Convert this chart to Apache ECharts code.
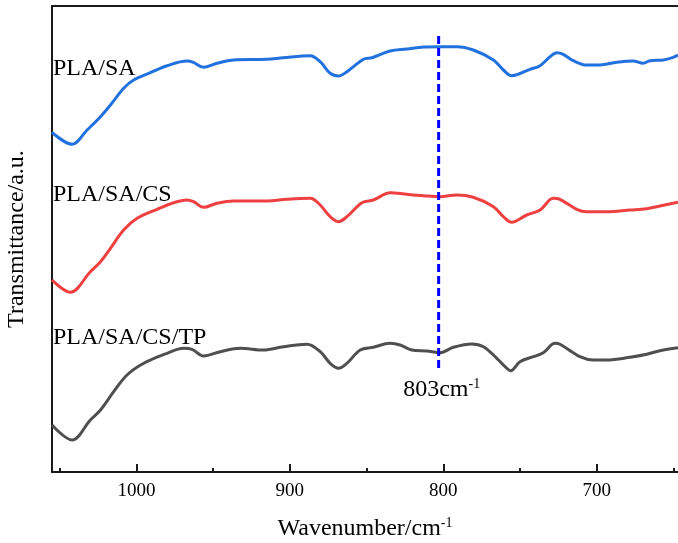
<!DOCTYPE html>
<html><head><meta charset="utf-8">
<script src="https://cdn.jsdelivr.net/npm/echarts@6/dist/echarts.min.js"></script>
<style>html,body{margin:0;padding:0;background:#fff}#c{width:678px;height:543px}</style>
</head><body><div id="c"></div>
<script>
const FONT = "'Liberation Serif','Times New Roman',serif";

// x range (wavenumber, cm-1), axis reversed
const xMin = 647, xMax = 1055;
const majorTicks = [700, 800, 900, 1000];
const minorTicks = [650, 750, 850, 950, 1050];

// PLA/SA (blue)
const wnSA = [1055, 1041.9, 1032.1, 1023.4, 1016.9, 1008.3, 1001.8, 990.9, 980, 967, 962.9, 956.2, 947.5, 936.6, 914.9, 904.3, 886.7, 880.2, 873.7, 868.3, 862.8, 852, 846.5, 834.6, 823.7, 812.9, 802, 791.2, 780.4, 767.3, 760.8, 755.4, 743.4, 736.9, 730.4, 726, 721.8, 715.2, 706.5, 697.9, 687, 676.2, 669.7, 665.3, 656.6, 650.1, 647];
const tSA = [339.7, 327.7, 342, 355.3, 367, 383.7, 392, 399.3, 406.3, 411, 409.7, 404.7, 408.7, 412, 412.7, 414.3, 416.3, 410.3, 398.7, 396, 400.3, 412.7, 414.3, 421, 423, 425, 425.3, 425.3, 422, 412, 402, 396.3, 402.7, 406.3, 415.3, 419.3, 417.7, 411.3, 407, 407, 409.7, 411, 408.7, 411.3, 412, 414.7, 417];

// PLA/SA/CS (red)
const wnCS = [1055, 1043, 1030, 1023.4, 1016.9, 1008.3, 999.5, 986.5, 975.7, 967, 962.7, 956.2, 947.5, 936.6, 914.9, 901.9, 886.7, 880.2, 873.7, 868.3, 862.8, 853, 845.5, 834.6, 823.7, 812.9, 802, 791.2, 780.4, 767.3, 760.8, 755.4, 745.6, 736.9, 728.3, 723.9, 713, 706.5, 693.5, 678.3, 667.4, 658.8, 647];
const tCS = [192, 179.7, 200.3, 210.3, 223.7, 242, 253.7, 262.7, 269.3, 272, 270.3, 264.7, 268.7, 271, 271, 272.7, 273.7, 267, 255.3, 250.3, 255.3, 269.3, 272, 279.3, 277.7, 276.3, 275.3, 277, 274.7, 265.3, 255.3, 249.7, 257, 262, 273.7, 272.7, 262.7, 260.3, 260.3, 262, 263.3, 266, 269.7];

// PLA/SA/CS/TP (gray)
const wnTP = [1055, 1041.9, 1030, 1023.4, 1014.8, 1006.1, 995.2, 980, 969.2, 963.7, 956.2, 945.3, 932.3, 917.1, 904.1, 888.8, 880.2, 873.7, 868.3, 862.8, 854.1, 845.5, 834.6, 828.1, 820.5, 810.7, 802, 793.4, 781.4, 773.8, 765.1, 759.7, 756, 750, 741.3, 734.8, 727.2, 723.9, 710.9, 702.2, 693.5, 678.3, 667.4, 658.8, 647];
const tTP = [47, 32, 52, 62, 80.3, 97, 108.7, 118.7, 123.7, 122.7, 116, 120.3, 123.7, 122, 125.3, 127.7, 120.3, 108.7, 103.7, 108.7, 122, 124.7, 128.7, 127, 122, 121, 119.3, 124.7, 128, 125.3, 113.7, 105.3, 101.3, 110.3, 115.3, 119.3, 128.7, 127.7, 115.3, 112, 112, 114.7, 117.7, 121.3, 124.3];

// marker line at 803 cm-1
const markerWn = 803;
const markerRange = [436, 101];

const seriesNames = ['PLA/SA', 'PLA/SA/CS', 'PLA/SA/CS/TP'];
const seriesColors = ['#2171DF', '#EE4040', '#4F4F4F'];

const zip = (a, b) => a.map((v, i) => [v, b[i]]);

const chart = echarts.init(document.getElementById('c'), null, {renderer: 'canvas'});
const gridPos = {left: 52, right: 0, top: 6, bottom: 71, containLabel: false, outerBoundsMode: 'none'};
const axisColor = '#1a1a1a';
const supRich = {
  n: {fontFamily: FONT, fontSize: 24, color: '#000', lineHeight: 26},
  s: {fontFamily: FONT, fontSize: 14, color: '#000', verticalAlign: 'top', lineHeight: 14}
};

const option = {
  animation: false,
  backgroundColor: '#fff',
  grid: [Object.assign({}, gridPos), Object.assign({}, gridPos)],
  xAxis: [
    {
      type: 'value', gridIndex: 0, position: 'bottom', inverse: true, min: xMin, max: xMax,
      axisLine: {show: true, onZero: false, lineStyle: {color: axisColor, width: 2}},
      axisTick: {show: true, inside: true, length: 8, customValues: majorTicks, lineStyle: {color: axisColor, width: 2}},
      axisLabel: {show: true, customValues: majorTicks, margin: 10, color: '#000', fontFamily: FONT, fontSize: 19, formatter: v => String(v)},
      splitLine: {show: false},
      name: '{n|Wavenumber/cm}{s|-1}', nameLocation: 'middle', nameGap: 44,
      nameTextStyle: {rich: supRich}
    },
    {
      type: 'value', gridIndex: 0, position: 'top', inverse: true, min: xMin, max: xMax,
      axisLine: {show: true, onZero: false, lineStyle: {color: axisColor, width: 2}},
      axisTick: {show: false}, axisLabel: {show: false}, splitLine: {show: false}
    },
    {
      type: 'value', gridIndex: 1, position: 'bottom', inverse: true, min: xMin, max: xMax,
      axisLine: {show: false, onZero: false},
      axisTick: {show: true, inside: true, length: 4, customValues: minorTicks, lineStyle: {color: axisColor, width: 2}},
      axisLabel: {show: false}, splitLine: {show: false}
    }
  ],
  yAxis: [
    {
      type: 'value', gridIndex: 0, min: 0, max: 466,
      axisLine: {show: true, onZero: false, lineStyle: {color: axisColor, width: 2}},
      axisTick: {show: false}, axisLabel: {show: false}, splitLine: {show: false},
      name: 'Transmittance/a.u.', nameLocation: 'middle', nameGap: 23,
      nameTextStyle: {fontFamily: FONT, fontSize: 24, color: '#000'}
    },
    {type: 'value', gridIndex: 1, min: 0, max: 1, show: false}
  ],
  series: [
    {name: seriesNames[0], type: 'line', xAxisIndex: 0, yAxisIndex: 0, data: zip(wnSA, tSA), smooth: 0.35, showSymbol: false, lineStyle: {color: seriesColors[0], width: 3}, itemStyle: {color: seriesColors[0]}},
    {name: seriesNames[1], type: 'line', xAxisIndex: 0, yAxisIndex: 0, data: zip(wnCS, tCS), smooth: 0.35, showSymbol: false, lineStyle: {color: seriesColors[1], width: 3}, itemStyle: {color: seriesColors[1]}},
    {name: seriesNames[2], type: 'line', xAxisIndex: 0, yAxisIndex: 0, data: zip(wnTP, tTP), smooth: 0.35, showSymbol: false, lineStyle: {color: seriesColors[2], width: 3}, itemStyle: {color: seriesColors[2]}},
    {
      name: 'marker', type: 'line', xAxisIndex: 0, yAxisIndex: 0, showSymbol: false, symbol: 'none',
      lineStyle: {color: '#0000FF', width: 3, type: [8, 4]},
      data: [[markerWn, markerRange[0]], [markerWn, markerRange[1]]],
      z: 5
    },
    {
      name: 'markerLabel', type: 'scatter', xAxisIndex: 0, yAxisIndex: 0, symbol: 'circle', symbolSize: 2,
      itemStyle: {color: 'rgba(0,0,0,0)', opacity: 1}, silent: true,
      data: [[markerWn, markerRange[1]]],
      label: {show: true, position: 'bottom', distance: 5, offset: [3, 0], opacity: 1, color: '#000', formatter: '{n|' + markerWn + 'cm}{s|-1}', rich: supRich},
      z: 6
    }
  ],
  graphic: [
    {type: 'text', left: 53, top: 57, style: {text: seriesNames[0], font: '24px ' + FONT, fill: '#000'}},
    {type: 'text', left: 53, top: 183, style: {text: seriesNames[1], font: '24px ' + FONT, fill: '#000'}},
    {type: 'text', left: 53, top: 326, style: {text: seriesNames[2], font: '24px ' + FONT, fill: '#000'}}
  ]
};
chart.setOption(option);
</script>
</body></html>
